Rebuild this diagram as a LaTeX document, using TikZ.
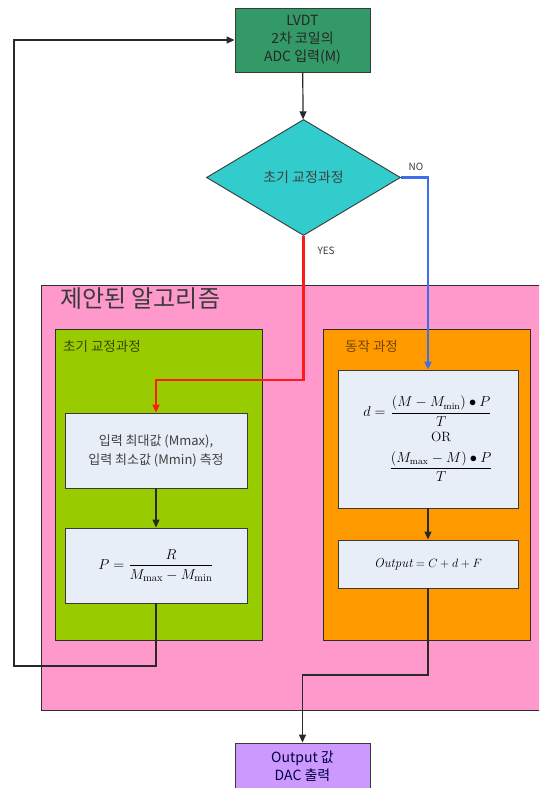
\documentclass[tikz,border=0pt]{standalone}
\usepackage{amsmath}
\usepackage{fontspec}
\newfontfamily\krfont{Noto Sans CJK KR}
\definecolor{lvdtgreen}{HTML}{339966}
\definecolor{calibcyan}{HTML}{33CCCC}
\definecolor{algopink}{HTML}{FF99CC}
\definecolor{initgreen}{HTML}{99CC00}
\definecolor{runorange}{HTML}{FF9900}
\definecolor{stepfill}{HTML}{E8EEF8}
\definecolor{dacpurple}{HTML}{CC99FF}
\definecolor{edgegray}{HTML}{3A3A3A}
\definecolor{yesred}{HTML}{FF1A1A}
\definecolor{noblue}{HTML}{3F6FE8}
\usetikzlibrary{positioning,arrows.meta,shapes.geometric,calc}

\begin{document}
\begin{tikzpicture}[
  x=1pt, y=-1pt,
  font=\krfont\fontsize{13.5}{17}\selectfont,
  blk/.style={draw=edgegray, line width=0.9pt, align=center, inner sep=3pt},
  calc/.style={draw=edgegray, line width=0.9pt, fill=stepfill, align=center, minimum width=180pt},
  panel/.style={draw=edgegray!80!black, line width=0.9pt},
  arr/.style={-{Triangle[length=8pt,width=7pt]}, line width=1.2pt, color=edgegray!70!black},
  yes/.style={-{Triangle[length=8pt,width=7pt]}, line width=2.2pt, color=yesred},
  no/.style={-{Triangle[length=8pt,width=7pt]}, line width=2.2pt, color=noblue},
  lab/.style={font=\krfont\fontsize{10}{12}\selectfont, text=edgegray},
]
  \useasboundingbox (0,0) rectangle (539,788);
  \clip (0,0) rectangle (539,788);

  % containers
  \node[panel, fill=algopink, minimum width=510pt, minimum height=425pt] (algo) at (296,497.5) {};
  \node[panel, fill=initgreen, minimum width=207pt, minimum height=311pt] (initpanel) at (158.5,485) {};
  \node[panel, fill=runorange, minimum width=207pt, minimum height=311pt] (runpanel) at (426.5,485) {};
  \node[anchor=west, inner sep=0pt, text=edgegray, font=\krfont\fontsize{24}{28}\selectfont] (algotitle) at (60,299) {제안된 알고리즘};
  \node[anchor=west, inner sep=0pt, text=initgreen!35!black, font=\krfont\fontsize{13.5}{16}\selectfont] (inittitle) at (63,346) {초기 교정과정};
  \node[anchor=west, inner sep=0pt, text=runorange!45!black, font=\krfont\fontsize{13.5}{16}\selectfont] (runtitle) at (345,346) {동작 과정};

  % flow
  \node[blk, fill=lvdtgreen, text=black!85, minimum width=135pt, minimum height=64pt,
        font=\krfont\fontsize{14}{18}\selectfont] (lvdt) at (302.5,40) {LVDT\\2차 코일의\\ADC 입력(M)};
  \node[diamond, draw=edgegray, line width=0.9pt, fill=calibcyan, inner sep=0pt,
        minimum width=194pt, minimum height=116pt, text=black!75,
        font=\krfont\fontsize{14}{17}\selectfont] (calib) at (303.5,177.5) {초기 교정과정};
  \node[lab, anchor=west] (nolab) at (405,167) {NO};
  \node[lab, anchor=west] (yeslab) at (314,251) {YES};

  \node[calc, minimum width=182pt, minimum height=75pt, text=black!75,
        font=\krfont\fontsize{13}{19}\selectfont] (meas) at (156,450.5) {입력 최대값 (Mmax),\\입력 최소값 (Mmin) 측정};
  \node[calc, minimum width=182pt, minimum height=75pt, font=\fontsize{15}{18}\selectfont] (pbox) at (156,565.5)
        {$\displaystyle P=\frac{R}{M_{\max}-M_{\min}}$};

  \node[calc, minimum width=180pt, minimum height=138pt, font=\fontsize{13.5}{16}\selectfont] (dcalc) at (428,439)
        {$\begin{array}{r@{}c}
          d={} & \dfrac{(M-M_{\min})\bullet P}{T}\\[9pt]
               & \mathrm{OR}\\[5pt]
               & \dfrac{(M_{\max}-M)\bullet P}{T}
         \end{array}$};
  \node[calc, minimum width=180pt, minimum height=48pt, font=\fontsize{13}{15}\selectfont] (outbox) at (428,564)
        {$\mathit{Output}=C+d+F$};

  \node[blk, fill=dacpurple, text=black!75!blue, minimum width=135pt, minimum height=46pt,
        font=\krfont\fontsize{14}{18}\selectfont] (dac) at (302.5,766) {Output 값\\DAC 출력};

  % connectors
  \coordinate (redturn) at (303.5,380);
  \coordinate (loopturn) at (14,666);
  \coordinate (outturn) at (428,675);
  \draw[arr] (lvdt) -- (calib);
  \draw[no] (calib.east) -| (dcalc.north);
  \draw[yes] (calib.south) -- (redturn) -| (meas.north);
  \draw[arr] (meas) -- (pbox);
  \draw[arr] (pbox.south) |- (loopturn) |- (lvdt.west);
  \draw[arr] (dcalc) -- (outbox);
  \draw[arr] (outbox.south) -- (outturn) -| (dac.north);
\end{tikzpicture}
\end{document}
